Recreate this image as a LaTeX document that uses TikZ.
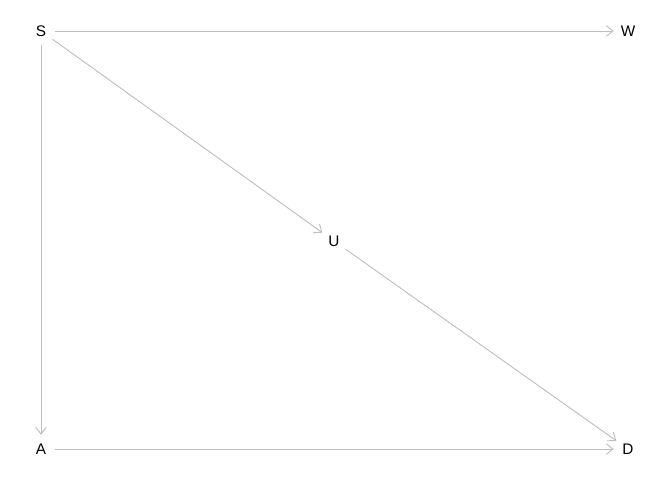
\documentclass[tikz,border=0pt]{standalone}
\usepackage{fontspec}
\setmainfont{Liberation Sans}
\usetikzlibrary{arrows.meta}
\definecolor{edgegray}{HTML}{BEBEBE}
\begin{document}
\begin{tikzpicture}[x=0.75pt,y=-0.75pt,
  var/.style={circle,minimum size=21pt,inner sep=0pt,font=\fontsize{11.5}{13}\selectfont},
  edge/.style={draw=edgegray,line width=0.7pt,-{Straight Barb[length=5pt,width=8pt,line width=0.7pt]}}]
\useasboundingbox (0,0) rectangle (672,480);
\node[var] (S) at (41,31) {S};
\node[var] (W) at (628,31) {W};
\node[var] (U) at (334,241) {U};
\node[var] (A) at (41,449) {A};
\node[var] (D) at (628,449) {D};
\draw[edge] (S) -- (W);
\draw[edge] (S) -- (U);
\draw[edge] (S) -- (A);
\draw[edge] (U) -- (D);
\draw[edge] (A) -- (D);
\end{tikzpicture}
\end{document}
